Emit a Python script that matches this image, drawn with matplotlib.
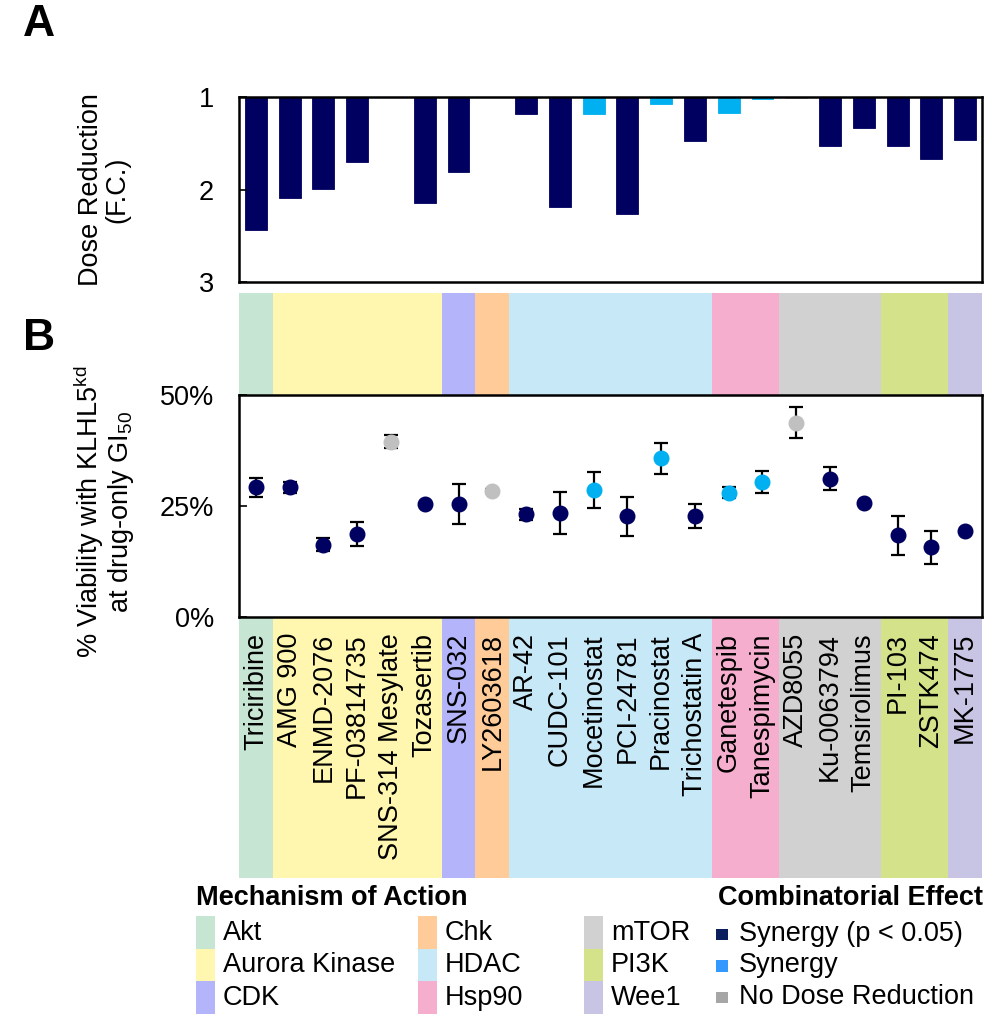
import matplotlib
matplotlib.use('Agg')
import matplotlib.pyplot as plt
from matplotlib.patches import Rectangle
from matplotlib.ticker import PercentFormatter

plt.rcParams['font.family'] = ['Liberation Sans', 'DejaVu Sans']
plt.rcParams['mathtext.fontset'] = 'custom'
plt.rcParams['mathtext.rm'] = 'Liberation Sans'
plt.rcParams['mathtext.it'] = 'Liberation Sans:italic'
plt.rcParams['mathtext.bf'] = 'Liberation Sans:bold'

FS = 19.5

drugs = ['Triciribine', 'AMG 900', 'ENMD-2076', 'PF-03814735', 'SNS-314 Mesylate',
         'Tozasertib', 'SNS-032', 'LY2603618', 'AR-42', 'CUDC-101', 'Mocetinostat',
         'PCI-24781', 'Pracinostat', 'Trichostatin A', 'Ganetespib', 'Tanespimycin',
         'AZD8055', 'Ku-0063794', 'Temsirolimus', 'PI-103', 'ZSTK474', 'MK-1775']
mechanism = ['Akt', 'Aurora Kinase', 'Aurora Kinase', 'Aurora Kinase', 'Aurora Kinase',
             'Aurora Kinase', 'CDK', 'Chk', 'HDAC', 'HDAC', 'HDAC', 'HDAC', 'HDAC', 'HDAC',
             'Hsp90', 'Hsp90', 'mTOR', 'mTOR', 'mTOR', 'PI3K', 'PI3K', 'Wee1']
effect = ['sig', 'sig', 'sig', 'sig', 'none', 'sig', 'sig', 'none', 'sig', 'sig', 'syn',
          'sig', 'syn', 'sig', 'syn', 'syn', 'none', 'sig', 'sig', 'sig', 'sig', 'sig']

# panel A: dose reduction fold change
dose_reduction = [2.44, 2.09, 1.99, 1.70, 1.0, 2.15, 1.81, 1.0, 1.18, 2.19, 1.18,
                  2.26, 1.08, 1.48, 1.17, 1.02, 1.01, 1.53, 1.34, 1.53, 1.67, 1.47]

# panel B: viability with error
viability = [0.292, 0.292, 0.163, 0.187, 0.395, 0.254, 0.254, 0.284, 0.231, 0.234, 0.286,
             0.227, 0.357, 0.228, 0.280, 0.304, 0.438, 0.311, 0.256, 0.184, 0.157, 0.194]
viability_err = [0.021, 0.013, 0.014, 0.028, 0.015, 0.0, 0.045, 0.005, 0.012, 0.047, 0.040,
                 0.044, 0.035, 0.027, 0.013, 0.025, 0.035, 0.026, 0.004, 0.044, 0.037, 0.0]

moa_names = ['Akt', 'Aurora Kinase', 'CDK', 'Chk', 'HDAC', 'Hsp90', 'mTOR', 'PI3K', 'Wee1']
moa_colors = ['#C6E5D3', '#FFF7B0', '#B4B4FA', '#FFCC99', '#C6E8F7',
              '#F5AECD', '#D1D1D1', '#D4E38A', '#C8C4E3']
moa_color = dict(zip(moa_names, moa_colors))

effect_names = ['Synergy (p < 0.05)', 'Synergy', 'No Dose Reduction']
effect_colors = {'sig': '#000060', 'syn': '#00B0F0', 'none': '#C0C0C0'}
effect_legend_colors = ['#0B1F5E', '#3399FF', '#A6A6A6']

W, H = 1000, 1031
fig = plt.figure(figsize=(W / 100, H / 100), dpi=100)

x = list(range(len(drugs)))
xlim = (-0.5, len(drugs) - 0.5)


def fig_rect(left, top, right, bottom):
    return [left / W, 1 - bottom / H, (right - left) / W, (bottom - top) / H]


# band strip behind panel B and labels
axBand = fig.add_axes(fig_rect(239, 293, 982, 878))
axBand.set_xlim(xlim)
axBand.set_ylim(878, 293)
for i, m in enumerate(mechanism):
    axBand.axvspan(i - 0.5, i + 0.5, color=moa_color[m], lw=0)
    axBand.text(i, 633, drugs[i], rotation=90, ha='center', va='top', fontsize=FS)
axBand.axis('off')

# panel A
axA = fig.add_axes(fig_rect(239, 97, 982, 282))
colsA = [effect_colors[e] for e in effect]
axA.bar(x, [v - 1 for v in dose_reduction], bottom=1, width=0.65, color=colsA,
        edgecolor=colsA, linewidth=0.6)
axA.set_xlim(xlim)
axA.set_ylim(3, 1)
axA.set_yticks([1, 2, 3])
axA.set_xticks([])
axA.tick_params(axis='y', direction='in', length=6, width=1.2, pad=18, labelsize=FS)
for s in axA.spines.values():
    s.set_linewidth(1.8)

# panel B
axB = fig.add_axes(fig_rect(239, 395, 982, 617))
axB.set_facecolor('white')
for i in x:
    axB.errorbar(i, viability[i], yerr=viability_err[i] if viability_err[i] > 0 else None,
                 fmt='o', ms=10.5, color=effect_colors[effect[i]], mec=effect_colors[effect[i]],
                 ecolor='black', elinewidth=1.6, capsize=5, capthick=1.6, zorder=3)
axB.set_xlim(xlim)
axB.set_ylim(0, 0.5)
axB.set_yticks([0, 0.25, 0.5])
axB.yaxis.set_major_formatter(PercentFormatter(1.0, decimals=0))
axB.set_xticks([])
axB.tick_params(axis='y', direction='in', length=6, width=1.2, pad=18, labelsize=FS)
for s in axB.spines.values():
    s.set_linewidth(1.8)

# y labels and panel letters
fig.text(104 / W, 1 - 190 / H, 'Dose Reduction\n(F.C.)', rotation=90, ha='center',
         va='center', multialignment='center', fontsize=FS, linespacing=1.0)
fig.text(104 / W, 1 - 512 / H, '% Viability with KLHL5$^{\\mathrm{kd}}$\nat drug-only GI$_{\\mathrm{50}}$',
         rotation=90, ha='center', va='center', multialignment='center', fontsize=FS,
         linespacing=1.0)
fig.text(39 / W, 1 - 24 / H, 'A', fontsize=32, fontweight='bold', ha='center', va='center')
fig.text(39 / W, 1 - 338 / H, 'B', fontsize=32, fontweight='bold', ha='center', va='center')

# legends
axL = fig.add_axes([0, 0, 1, 1])
axL.set_xlim(0, W)
axL.set_ylim(H, 0)
axL.axis('off')
axL.patch.set_alpha(0)

axL.text(196, 898, 'Mechanism of Action', fontsize=FS, fontweight='bold', ha='left', va='center')
col_x = [196, 418, 584]
for k, name in enumerate(moa_names):
    cx = col_x[k // 3]
    top = 916 + (k % 3) * 32.7
    axL.add_patch(Rectangle((cx, top), 19, 32.7, facecolor=moa_colors[k], edgecolor='none'))
    axL.text(cx + 27, top + 16.5, name, fontsize=FS, ha='left', va='center')

axL.text(983, 898, 'Combinatorial Effect', fontsize=FS, fontweight='bold', ha='right', va='center')
for k, name in enumerate(effect_names):
    cy = 934 + k * 31.5
    axL.add_patch(Rectangle((716, cy - 5.5), 11.5, 11.5, facecolor=effect_legend_colors[k],
                            edgecolor='none'))
    axL.text(739, cy, name, fontsize=FS, ha='left', va='center')

fig.savefig('out.png', dpi=100)
